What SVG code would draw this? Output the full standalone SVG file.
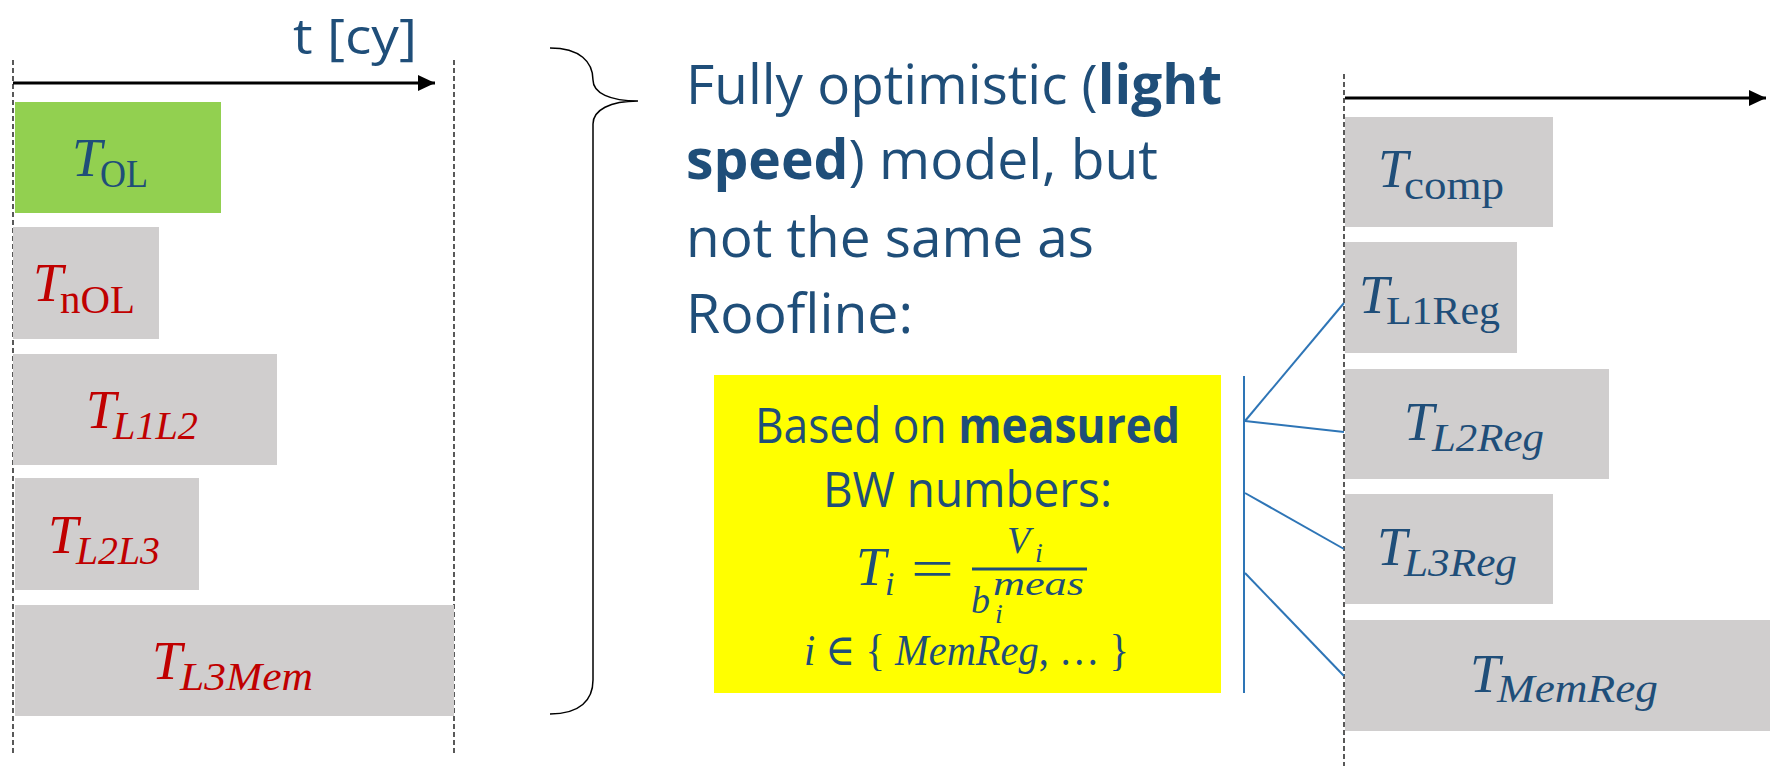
<svg xmlns="http://www.w3.org/2000/svg" width="1770" height="766" viewBox="0 0 1770 766">
<style>
.bg{fill:#FFFFFF}
.gray{fill:#D0CECE}
.green{fill:#92D050}
.dash{stroke:#000;stroke-width:1.3;stroke-dasharray:5 3;fill:none}
.axis{stroke:#000;stroke-width:3;fill:none}
.conn{stroke:#2E75B6;stroke-width:2;fill:none}
.tm{font-family:"Liberation Serif","DejaVu Serif",serif;font-size:54px;font-style:italic}
.sub{font-family:"Liberation Serif","DejaVu Serif",serif;font-size:39px}
.m{font-family:"Liberation Serif","DejaVu Serif",serif;fill:#1F4E79}
.it{font-style:italic}
.red{fill:#C00000}
.blue{fill:#1F4E79}
.sans{font-family:"Open Sans","Liberation Sans",sans-serif;fill:#1F4E79}
.b{font-weight:bold}
</style>
<defs>
<marker id="ah" markerUnits="userSpaceOnUse" markerWidth="18" markerHeight="16" refX="17" refY="8" orient="auto">
<path d="M0,0 L17,8 L0,16 Z" fill="#000"/>
</marker>
</defs>
<rect class="bg" x="0" y="0" width="1770" height="766"/>

<g id="axis-left">
<line class="dash" x1="13" y1="60" x2="13" y2="753"/>
<line class="dash" x1="454" y1="60" x2="454" y2="753"/>
<line class="axis" x1="13" y1="83" x2="435" y2="83" marker-end="url(#ah)"/>
<text class="sans" x="293" y="54" font-size="50" textLength="124" lengthAdjust="spacingAndGlyphs">t [cy]</text>
</g>

<g id="node-TOL">
<rect class="green" x="15" y="102" width="206" height="111"/>
<text class="tm blue" x="72" y="176">T</text>
<text class="sub blue" x="100" y="187" textLength="48" lengthAdjust="spacingAndGlyphs">OL</text>
</g>
<g id="node-TnOL">
<rect class="gray" x="13" y="227" width="146" height="112"/>
<text class="tm red" x="33" y="301">T</text>
<text class="sub red" x="60" y="313" textLength="75" lengthAdjust="spacingAndGlyphs">nOL</text>
</g>
<g id="node-TL1L2">
<rect class="gray" x="13" y="354" width="264" height="111"/>
<text class="tm red" x="86" y="428">T</text>
<text class="sub it red" x="113" y="439" textLength="85" lengthAdjust="spacingAndGlyphs">L1L2</text>
</g>
<g id="node-TL2L3">
<rect class="gray" x="15" y="478" width="184" height="112"/>
<text class="tm red" x="48" y="553">T</text>
<text class="sub it red" x="76" y="564" textLength="84" lengthAdjust="spacingAndGlyphs">L2L3</text>
</g>
<g id="node-TL3Mem">
<rect class="gray" x="15" y="605" width="439" height="111"/>
<text class="tm red" x="152" y="679">T</text>
<text class="sub it red" x="180" y="690" textLength="133" lengthAdjust="spacingAndGlyphs">L3Mem</text>
</g>

<g id="brace">
<path d="M550,48 C580,48 593,62 593,80 C593,93 610,101 638,101 C610,101 593,110 593,124 L593,680 C593,700 580,714 550,714" fill="none" stroke="#000" stroke-width="1.5"/>
</g>

<g id="main-text">
<text class="sans" x="686" y="104" font-size="55" textLength="536" lengthAdjust="spacingAndGlyphs">Fully optimistic (<tspan class="b">light</tspan></text>
<text class="sans" x="686" y="179" font-size="55" textLength="472" lengthAdjust="spacingAndGlyphs"><tspan class="b">speed</tspan>) model, but</text>
<text class="sans" x="686" y="257" font-size="55" textLength="408" lengthAdjust="spacingAndGlyphs">not the same as</text>
<text class="sans" x="686" y="333" font-size="55" textLength="227" lengthAdjust="spacingAndGlyphs">Roofline:</text>
</g>

<g id="node-yellow">
<rect x="714" y="375" width="507" height="318" fill="#FFFF00"/>
<text class="sans" x="967.5" y="443" font-size="49" text-anchor="middle" textLength="425" lengthAdjust="spacingAndGlyphs">Based on <tspan class="b">measured</tspan></text>
<text class="sans" x="967.5" y="507" font-size="49" text-anchor="middle" textLength="289" lengthAdjust="spacingAndGlyphs">BW numbers:</text>
<text class="m" x="856" y="585" style="font-size:54px"><tspan class="it">T</tspan><tspan class="it" x="885" dy="10" style="font-size:34px">i</tspan><tspan x="911" dy="-8" style="font-size:54px" textLength="43" lengthAdjust="spacingAndGlyphs">=</tspan></text>
<line x1="972" y1="569" x2="1087" y2="569" stroke="#1F4E79" stroke-width="3"/>
<text class="m it" x="1007" y="553" style="font-size:38px">V<tspan x="1035" dy="9" style="font-size:28px">i</tspan></text>
<text class="m it" x="971" y="613" style="font-size:38px">b<tspan x="993" dy="-18" style="font-size:34px" textLength="91" lengthAdjust="spacingAndGlyphs">meas</tspan><tspan x="995" dy="28" style="font-size:28px">i</tspan></text>
<text class="m" x="804" y="665" style="font-size:44px" textLength="325" lengthAdjust="spacingAndGlyphs"><tspan class="it">i</tspan> ∈ { <tspan class="it">MemReg</tspan>, … }</text>
</g>

<g id="axis-right">
<line class="dash" x1="1344" y1="74" x2="1344" y2="766"/>
<line class="axis" x1="1345" y1="98" x2="1766" y2="98" marker-end="url(#ah)"/>
</g>

<g id="node-Tcomp">
<rect class="gray" x="1345" y="117" width="208" height="110"/>
<text class="tm blue" x="1378" y="187">T</text>
<text class="sub blue" x="1404" y="199" textLength="100" lengthAdjust="spacingAndGlyphs">comp</text>
</g>
<g id="node-TL1Reg">
<rect class="gray" x="1345" y="242" width="172" height="111"/>
<text class="tm blue" x="1359" y="313">T</text>
<text class="sub blue" x="1386" y="324" textLength="114" lengthAdjust="spacingAndGlyphs">L1Reg</text>
</g>
<g id="node-TL2Reg">
<rect class="gray" x="1345" y="369" width="264" height="110"/>
<text class="tm blue" x="1404" y="440">T</text>
<text class="sub it blue" x="1432" y="451" textLength="112" lengthAdjust="spacingAndGlyphs">L2Reg</text>
</g>
<g id="node-TL3Reg">
<rect class="gray" x="1345" y="494" width="208" height="110"/>
<text class="tm blue" x="1377" y="565">T</text>
<text class="sub it blue" x="1404" y="576" textLength="113" lengthAdjust="spacingAndGlyphs">L3Reg</text>
</g>
<g id="node-TMemReg">
<rect class="gray" x="1345" y="620" width="425" height="111"/>
<text class="tm blue" x="1470" y="692">T</text>
<text class="sub it blue" x="1497" y="702" textLength="161" lengthAdjust="spacingAndGlyphs">MemReg</text>
</g>

<g id="connectors">
<line class="conn" x1="1244" y1="376" x2="1244" y2="693"/>
<line class="conn" x1="1245" y1="421" x2="1344" y2="303"/>
<line class="conn" x1="1245" y1="421" x2="1344" y2="432"/>
<line class="conn" x1="1245" y1="493" x2="1344" y2="549"/>
<line class="conn" x1="1245" y1="573" x2="1344" y2="676"/>
</g>
</svg>
